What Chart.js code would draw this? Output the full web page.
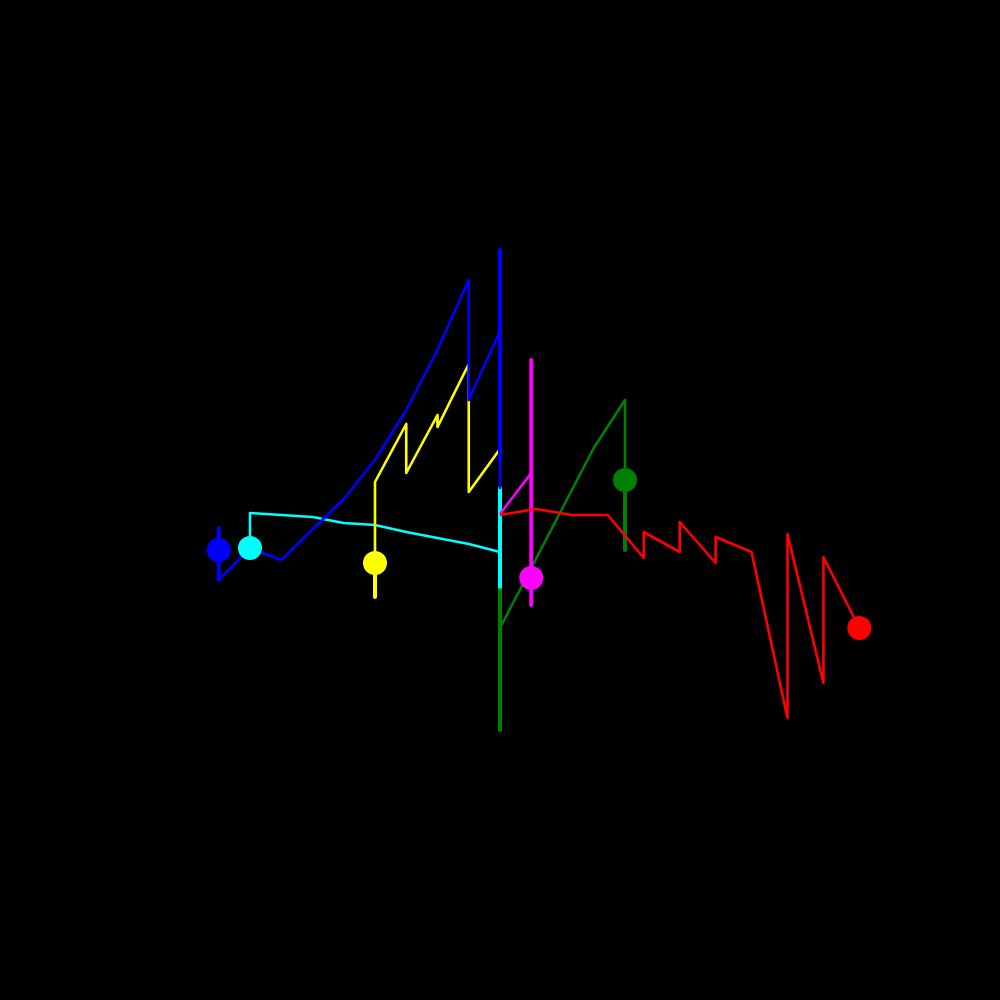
<!DOCTYPE html>
<html><head><meta charset="utf-8">
<script src="https://cdn.jsdelivr.net/npm/chart.js@4"></script>
<style>html,body{margin:0;padding:0;background:#000;} #wrap{width:1000px;height:1000px;position:relative;}</style>
</head><body><div id="wrap"><canvas id="c"></canvas></div>
<script>
// Series paths (x step units, y value units)
const blueX = [-9, -8, -7, -5, -4, -3, -2, -1, -1, 0, 0, 0];
const blueY = [-8, -4.8, -6, 0.1, 4, 9, 15, 22, 10, 16.9, 25, 1.2];
const cyanX = [-8, -8, -6, -5, -4, -3, -2, -1, 0];
const cyanY = [-4.8, -1.3, -1.7, -2.3, -2.5, -3.2, -3.8, -4.4, -5.2];
const yellowX = [-4, -4, -3, -3, -2, -2, -1, -1, 0];
const yellowY = [-6.3, 1.8, 7.6, 2.7, 8.5, 7.3, 13.6, 0.8, 5.1];
const magentaX = [1, 0];
const magentaY = [2.7, -1.4];
const greenX = [4, 4, 3, 0];
const greenY = [2, 10, 5.2, -12.8];
const redX = [0, 1.15, 2.3, 3.45, 4.6, 4.6, 5.75, 5.75, 6.9, 6.9, 8.05, 9.2, 9.2, 10.35, 10.35, 11.5];
const redY = [-1.5, -0.9, -1.5, -1.5, -5.8, -3.2, -5.2, -2.2, -6.3, -3.7, -5.2, -21.8, -3.4, -18.3, -5.7, -12.8];

// Range bars: [x, yFrom, yTo]
const blueBars = [[-9, -2.8, -8], [0, 25, 4]];
const cyanBars = [[0, 1.2, -9]];
const yellowBars = [[-4, -6.3, -9.7]];
const magentaBars = [[1, 14, -10.5]];
const greenBars = [[4, 2, -5], [0, -9, -23]];
const redBars = [];

// Start markers: [x, y]
const blueDot = [-9, -5];
const cyanDot = [-8, -4.8];
const yellowDot = [-4, -6.3];
const magentaDot = [1, -7.8];
const greenDot = [4, 2];
const redDot = [11.5, -12.8];

const series = [
  {c: '#0000ff', x: blueX, y: blueY, bars: blueBars, dot: blueDot, o: 13, d: 1},
  {c: '#00ffff', x: cyanX, y: cyanY, bars: cyanBars, dot: cyanDot, o: 15, d: 0},
  {c: '#ffff00', x: yellowX, y: yellowY, bars: yellowBars, dot: yellowDot, o: 14, d: 2},
  {c: '#008000', x: greenX, y: greenY, bars: greenBars, dot: greenDot, o: 12, d: 4},
  {c: '#ff00ff', x: magentaX, y: magentaY, bars: magentaBars, dot: magentaDot, o: 11, d: 3},
  {c: '#ff0000', x: redX, y: redY, bars: redBars, dot: redDot, o: 10, d: 5}
];

const datasets = [];
series.forEach(s => {
  datasets.push({
    data: s.x.map((v, i) => ({x: v, y: s.y[i]})),
    showLine: true, borderColor: s.c, borderWidth: 2.6, pointRadius: 0,
    tension: 0, order: s.o, borderJoinStyle: 'round', fill: false
  });
  s.bars.forEach(b => {
    datasets.push({
      data: [{x: b[0], y: b[1]}, {x: b[0], y: b[2]}],
      showLine: true, borderColor: s.c, borderWidth: 4, pointRadius: 0,
      borderCapStyle: 'round', order: s.o - 0.5, fill: false
    });
  });
  datasets.push({
    data: [{x: s.dot[0], y: s.dot[1]}],
    showLine: false, pointRadius: 12, pointBackgroundColor: s.c,
    pointBorderWidth: 0, borderColor: s.c, order: s.d
  });
});

new Chart(document.getElementById('c'), {
  type: 'scatter',
  data: {datasets},
  options: {
    responsive: true, maintainAspectRatio: false, animation: false,
    layout: {padding: 0, autoPadding: false},
    plugins: {legend: {display: false}, tooltip: {enabled: false}},
    events: [],
    scales: {
      x: {type: 'linear', min: -16, max: 16, display: false},
      y: {type: 'linear', min: -50, max: 50, display: false}
    }
  }
});
</script>
</body></html>
